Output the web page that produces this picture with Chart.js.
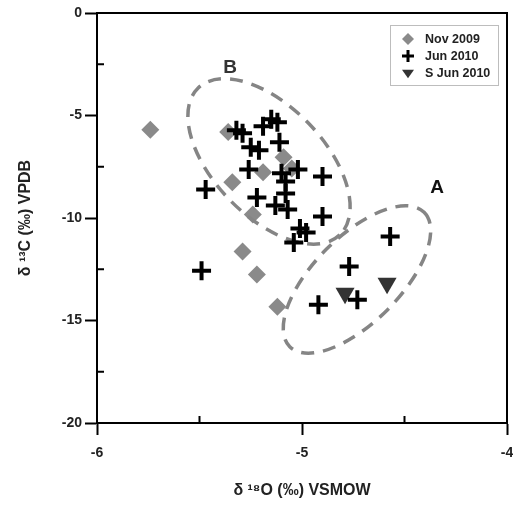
<!DOCTYPE html>
<html>
<head>
<meta charset="utf-8">
<script src="https://cdn.jsdelivr.net/npm/chart.js@4.4.1/dist/chart.umd.min.js"></script>
<style>
  html, body { margin: 0; padding: 0; background: #fff; overflow: hidden; }
  #wrap { width: 513px; height: 512px; position: relative; }
</style>
</head>
<body>
<div id="wrap"><canvas id="isoChart"></canvas></div>
<script>
// δ18O (x) vs δ13C (y) values
const nov2009X = [-5.74, -5.36, -5.09, -5.19, -5.05, -5.34, -5.24, -5.29, -5.22, -5.12];
const nov2009Y = [-5.7, -5.8, -7.04, -7.77, -7.58, -8.26, -9.83, -11.64, -12.76, -14.33];

const jun2010X = [-5.32, -5.29, -5.19, -5.15, -5.12, -5.11, -5.25, -5.21, -5.26, -5.10,
                  -5.08, -5.02, -4.90, -5.47, -5.22, -5.08, -5.13, -5.07, -4.90, -5.01,
                  -4.98, -5.04, -5.49, -4.57, -4.77, -4.92, -4.73];
const jun2010Y = [-5.72, -5.87, -5.53, -5.18, -5.33, -6.31, -6.55, -6.70, -7.63, -7.82,
                  -8.22, -7.63, -7.97, -8.61, -9.00, -8.80, -9.39, -9.58, -9.93, -10.51,
                  -10.71, -11.20, -12.57, -10.90, -12.37, -14.23, -13.99];

const sJun2010X = [-4.79, -4.585];
const sJun2010Y = [-13.67, -13.18];

const seriesNames = ['Nov 2009', 'Jun 2010', 'S Jun 2010'];
const xMinorTicks = [-5.5, -4.5];
const yMinorTicks = [-2.5, -7.5, -12.5, -17.5];

// grouping ellipses drawn over the data (centre in data units)
const groupEllipses = [
  { label: 'B', x: -5.161, y: -7.24, rx: 102, ry: 55, angle: 46 },
  { label: 'A', x: -4.732, y: -13.0, rx: 95, ry: 43, angle: -45 }
];

const FONT = "'Liberation Sans', Arial, sans-serif";

function toPoints(xs, ys) {
  return xs.map((x, i) => ({ x: x, y: ys[i] }));
}

/** Draw a legend marker by hand */
function drawMarker(ctx, style, x, y, r) {
  ctx.beginPath();
  if (style === 'rectRot') {
    ctx.moveTo(x - r, y); ctx.lineTo(x, y - r); ctx.lineTo(x + r, y); ctx.lineTo(x, y + r);
    ctx.closePath(); ctx.fill();
  } else if (style === 'cross') {
    ctx.moveTo(x - r, y); ctx.lineTo(x + r, y);
    ctx.moveTo(x, y - r); ctx.lineTo(x, y + r);
    ctx.stroke();
  } else {
    const h = r * 0.87;
    ctx.moveTo(x - r, y - h / 1.6); ctx.lineTo(x + r, y - h / 1.6); ctx.lineTo(x, y + h);
    ctx.closePath(); ctx.fill();
  }
}

const decorPlugin = {
  id: 'decor',
  afterDatasetDraw(chart, args) {
    if (args.index !== 0) return; // ellipses sit over the diamonds, under the crosses
    const { ctx, scales: { x, y } } = chart;
    ctx.save();
    ctx.setLineDash([13, 9]);
    ctx.lineWidth = 3.5;
    ctx.strokeStyle = '#858585';
    groupEllipses.forEach(e => {
      ctx.beginPath();
      ctx.ellipse(x.getPixelForValue(e.x), y.getPixelForValue(e.y), e.rx, e.ry,
        e.angle * Math.PI / 180, 0, Math.PI * 2);
      ctx.stroke();
    });
    ctx.restore();
  },
  afterDraw(chart) {
    const { ctx, chartArea: a, scales: { x, y } } = chart;
    ctx.save();

    // top and right frame
    ctx.strokeStyle = '#000';
    ctx.lineWidth = 2;
    ctx.beginPath();
    ctx.moveTo(a.left, a.top); ctx.lineTo(a.right, a.top); ctx.lineTo(a.right, a.bottom);
    ctx.stroke();

    // inward minor ticks
    ctx.beginPath();
    xMinorTicks.forEach(v => {
      const px = x.getPixelForValue(v);
      ctx.moveTo(px, a.bottom); ctx.lineTo(px, a.bottom - 7);
    });
    yMinorTicks.forEach(v => {
      const py = y.getPixelForValue(v);
      ctx.moveTo(a.left, py); ctx.lineTo(a.left + 7, py);
    });
    ctx.stroke();

    // group labels
    ctx.textAlign = 'center';
    ctx.textBaseline = 'middle';
    ctx.font = 'bold 19px ' + FONT;
    ctx.fillStyle = '#333';
    ctx.fillText('B', 230, 68);
    ctx.fillStyle = '#111';
    ctx.fillText('A', 437, 188);

    // axis titles
    ctx.fillStyle = '#222';
    ctx.font = 'bold 16px ' + FONT;
    ctx.fillText('\u03b4 \u00b9\u2078O (\u2030) VSMOW', (a.left + a.right) / 2, 491);
    ctx.save();
    ctx.translate(26, (a.top + a.bottom) / 2);
    ctx.rotate(-Math.PI / 2);
    ctx.fillText('\u03b4 \u00b9\u00b3C (\u2030) VPDB', 0, 0);
    ctx.restore();

    // legend box
    const lx = a.right - 117, ly = a.top + 12;
    ctx.strokeStyle = '#bdbdbd';
    ctx.lineWidth = 1;
    ctx.strokeRect(lx + 0.5, ly + 0.5, 108, 60);
    const styles = [
      { style: 'rectRot', fill: '#8a8a8a', r: 6 },
      { style: 'cross', stroke: '#000', r: 6 },
      { style: 'triangle', fill: '#333', r: 6 }
    ];
    ctx.textAlign = 'left';
    ctx.font = 'bold 12.5px ' + FONT;
    seriesNames.forEach((name, i) => {
      const ry = ly + 14 + i * 17;
      const s = styles[i];
      ctx.fillStyle = s.fill || '#000';
      ctx.strokeStyle = s.stroke || '#000';
      ctx.lineWidth = 3;
      drawMarker(ctx, s.style, lx + 18, ry, s.r);
      ctx.fillStyle = '#222';
      ctx.fillText(name, lx + 35, ry + 1);
    });
    ctx.restore();
  }
};

const axisCommon = {
  grid: { drawOnChartArea: false, drawTicks: true, tickLength: 12, tickWidth: 2, tickColor: '#000' },
  border: { display: true, color: '#000', width: 2 },
  ticks: { color: '#222', font: { family: FONT, size: 14, weight: 'bold' } }
};

new Chart(document.getElementById('isoChart'), {
  type: 'scatter',
  data: {
    datasets: [
      {
        label: seriesNames[0],
        data: toPoints(nov2009X, nov2009Y),
        pointStyle: 'rectRot',
        pointRadius: 9,
        backgroundColor: '#8a8a8a',
        borderWidth: 0,
        order: 3
      },
      {
        label: seriesNames[1],
        data: toPoints(jun2010X, jun2010Y),
        pointStyle: 'cross',
        pointRadius: 9.5,
        borderColor: '#000',
        borderWidth: 4,
        order: 1
      },
      {
        label: seriesNames[2],
        data: toPoints(sJun2010X, sJun2010Y),
        pointStyle: 'triangle',
        rotation: 180,
        pointRadius: 11,
        backgroundColor: '#333',
        borderWidth: 0,
        order: 2
      }
    ]
  },
  options: {
    responsive: true,
    maintainAspectRatio: false,
    animation: false,
    layout: { autoPadding: false, padding: { top: 13, right: 6, left: 0, bottom: 0 } },
    plugins: { legend: { display: false }, tooltip: { enabled: false } },
    scales: {
      x: {
        ...axisCommon,
        min: -6, max: -4,
        ticks: { ...axisCommon.ticks, stepSize: 1, padding: 10 },
        afterFit: (s) => { s.height = 89; s.paddingLeft = 0; s.paddingRight = 0; }
      },
      y: {
        ...axisCommon,
        min: -20, max: 0,
        ticks: { ...axisCommon.ticks, stepSize: 5, padding: 3 },
        afterFit: (s) => { s.width = 97; s.paddingTop = 0; s.paddingBottom = 0; }
      }
    }
  },
  plugins: [decorPlugin]
});
</script>
</body>
</html>
